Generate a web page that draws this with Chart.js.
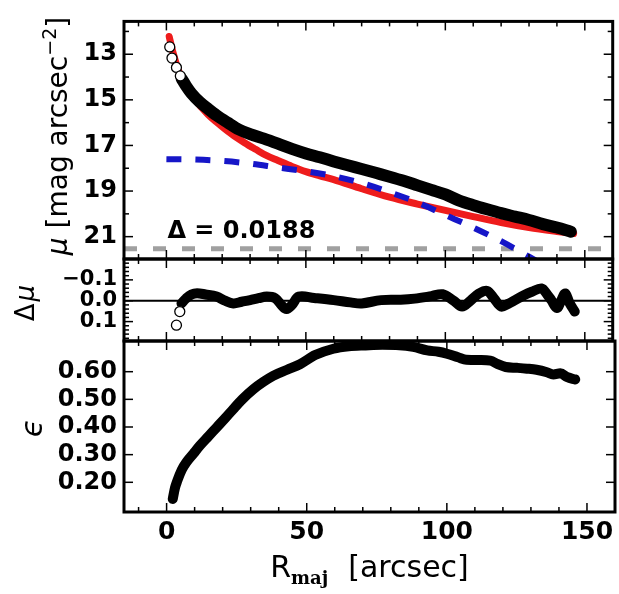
<!DOCTYPE html>
<html>
<head>
<meta charset="utf-8">
<script src="https://cdn.jsdelivr.net/npm/chart.js@4.4.1/dist/chart.umd.min.js"></script>
<style>
  html, body { margin: 0; padding: 0; background: #fff; }
  #wrap { position: relative; width: 619px; height: 594px; }
  #wrap canvas { position: absolute; left: 0; top: 0; }
</style>
</head>
<body>
<div id="wrap">
  <canvas id="muChart" width="619" height="594"></canvas>
  <canvas id="resChart" width="619" height="594"></canvas>
  <canvas id="ellChart" width="619" height="594"></canvas>
</div>
<script>
// ── x 축 (R_maj, arcsec)
const X_MIN = -15.2, X_MAX = 160;
const xMajor = [0, 50, 100, 150];
const xMinor = [-10, 10, 20, 30, 40, 60, 70, 80, 90, 110, 120, 130, 140];

// ── 표면 밝기 (mu)
const rOpen  = [1.2, 2.0, 3.6, 5.0];
const muOpen = [12.68, 13.17, 13.58, 13.95];
const rData  = [5.5, 7, 9, 12, 15, 18, 22, 26, 30, 35, 40, 45, 50, 55, 60, 65, 70, 75, 80, 85, 90, 95, 100, 105, 110, 115, 120, 125, 130, 135, 140, 145];
const muData = [14.08, 14.38, 14.72, 15.1, 15.4, 15.68, 16.0, 16.3, 16.5, 16.7, 16.92, 17.15, 17.35, 17.52, 17.7, 17.87, 18.03, 18.2, 18.37, 18.55, 18.75, 18.95, 19.15, 19.42, 19.62, 19.8, 19.97, 20.12, 20.27, 20.45, 20.6, 20.78];
const rModel  = [1.0, 2, 3, 4, 6, 8, 10, 12, 15, 18, 21, 24, 28, 32, 36, 40, 45, 50, 55, 60, 70, 80, 90, 100, 110, 120, 130, 140, 146];
const muModel = [12.22, 12.75, 13.2, 13.6, 14.2, 14.65, 14.98, 15.25, 15.65, 15.98, 16.28, 16.56, 16.88, 17.17, 17.45, 17.66, 17.92, 18.15, 18.33, 18.5, 18.9, 19.27, 19.57, 19.85, 20.12, 20.38, 20.6, 20.77, 20.86];
const rDisk  = [0, 10, 20, 30, 40, 50, 60, 70, 80, 90, 100, 110, 120, 130, 136];
const muDisk = [17.6, 17.62, 17.68, 17.8, 17.97, 18.13, 18.35, 18.65, 19.05, 19.5, 20.05, 20.6, 21.2, 21.88, 22.3];
const skyLevel = 21.53;
const deltaLabel = 'Δ = 0.0188';
const muMajor = [13, 15, 17, 19, 21];
const muMinor = [12, 14, 16, 18, 20];

// ── 잔차 (delta mu)
const rResOpen = [3.6, 4.8];
const resOpen  = [0.117, 0.052];
const rRes = [5.4, 7, 9, 11, 14, 18, 21, 24, 27, 30, 33, 36, 39, 41.5, 43, 45, 47.5, 53, 60, 66, 70, 77, 84, 89, 95, 99, 103, 106, 109, 112, 115, 117.5, 120, 122.5, 125, 128, 131, 134.5, 136.5, 138, 140, 141.5, 143, 144.5, 146.4];
const resVal = [0.013, -0.01, -0.03, -0.036, -0.03, -0.02, 0.0, 0.013, 0.005, -0.003, -0.012, -0.02, -0.012, 0.025, 0.04, 0.02, -0.02, -0.013, -0.003, 0.008, 0.013, -0.003, -0.005, -0.01, -0.022, -0.031, 0.0, 0.028, 0.0, -0.034, -0.047, -0.01, 0.028, 0.015, -0.003, -0.025, -0.043, -0.059, -0.03, -0.003, 0.035, 0.0, -0.035, 0.01, 0.052];
const resMajor = [-0.1, 0, 0.1];
const resMinor = [-0.18, -0.16, -0.14, -0.12, -0.08, -0.06, -0.04, -0.02, 0.02, 0.04, 0.06, 0.08, 0.12, 0.14, 0.16, 0.18];

// ── 타원율 (epsilon)
const rEll = [2.2, 3.0, 3.8, 5.4, 7.1, 9.5, 11.9, 15, 17.9, 21, 23.8, 27, 31, 34.5, 38, 43, 47.6, 53, 59.5, 65, 71, 77, 83, 88, 93, 97, 100, 104, 107, 112, 115.5, 118, 121, 125, 128.6, 132, 135.7, 138, 140.5, 143, 145.8];
const ellVal = [0.14, 0.18, 0.205, 0.245, 0.273, 0.303, 0.333, 0.367, 0.399, 0.433, 0.465, 0.5, 0.537, 0.563, 0.585, 0.607, 0.627, 0.66, 0.683, 0.692, 0.695, 0.697, 0.696, 0.69, 0.677, 0.672, 0.665, 0.652, 0.643, 0.642, 0.64, 0.628, 0.617, 0.614, 0.611, 0.607, 0.598, 0.59, 0.594, 0.58, 0.572];
const ellMajor = [0.2, 0.3, 0.4, 0.5, 0.6];

Chart.defaults.font.family = "'DejaVu Sans', sans-serif";
Chart.defaults.color = '#000';

const pts = (xs, ys) => xs.map((x, i) => ({ x, y: ys[i] }));

// ── 테두리 + 안쪽 눈금
const framePlugin = {
  id: 'frame',
  afterDatasetsDraw(chart, args, opts) {
    const { ctx, chartArea: a, scales: { x, y } } = chart;
    const seg = (x1, y1, x2, y2) => { ctx.beginPath(); ctx.moveTo(x1, y1); ctx.lineTo(x2, y2); ctx.stroke(); };
    ctx.save();
    ctx.strokeStyle = '#000';
    ctx.lineWidth = 1.5;
    const xt = (vals, len) => vals.forEach(v => {
      const p = x.getPixelForValue(v);
      seg(p, a.bottom, p, a.bottom - len);
      seg(p, a.top, p, a.top + len);
    });
    const yt = (vals, len) => vals.forEach(v => {
      const p = y.getPixelForValue(v);
      seg(a.left, p, a.left + len, p);
      seg(a.right, p, a.right - len, p);
    });
    xt(xMajor, 9); xt(xMinor, 5);
    yt(opts.yMajor || [], 9); yt(opts.yMinor || [], 5);
    ctx.lineWidth = 3;
    ctx.strokeRect(a.left, a.top, a.right - a.left, a.bottom - a.top);
    ctx.restore();
  }
};

// 회전된 y 축 제목 (부분별 폰트)
function drawRotated(ctx, cx, cy, parts) {
  ctx.save();
  ctx.translate(cx, cy);
  ctx.rotate(-Math.PI / 2);
  ctx.fillStyle = '#000';
  ctx.textBaseline = 'alphabetic';
  let total = 0;
  parts.forEach(p => { ctx.font = p.font; p.w = ctx.measureText(p.text).width + (p.gap || 0); total += p.w; });
  let px = -total / 2;
  parts.forEach(p => { ctx.font = p.font; ctx.fillText(p.text, px, -(p.rise || 0)); px += p.w; });
  ctx.restore();
}

function makePanel(id, cfg) {
  return new Chart(document.getElementById(id), {
    type: 'line',
    data: { datasets: cfg.datasets },
    options: {
      responsive: false,
      animation: false,
      events: [],
      layout: { padding: cfg.padding },
      plugins: {
        legend: { display: false },
        tooltip: { enabled: false },
        frame: { yMajor: cfg.yMajor, yMinor: cfg.yMinor },
      },
      scales: {
        x: {
          type: 'linear', min: X_MIN, max: X_MAX,
          display: !!cfg.showX,
          grid: { display: false, drawTicks: false },
          border: { display: false },
          afterBuildTicks: s => { s.ticks = xMajor.map(v => ({ value: v })); },
          afterFit: s => { if (cfg.showX) s.height = 82; },
          ticks: { font: { size: 25, weight: 'bold' }, padding: 5, maxRotation: 0, autoSkip: false },
        },
        y: {
          type: 'linear', min: cfg.yMin, max: cfg.yMax, reverse: !!cfg.reverse,
          grid: { display: false, drawTicks: false },
          border: { display: false },
          afterBuildTicks: s => { s.ticks = cfg.yMajor.map(v => ({ value: v })); },
          afterFit: s => { s.width = 124; },
          ticks: { font: cfg.yFont, padding: 7, autoSkip: false, callback: cfg.yFmt },
        }
      }
    },
    plugins: [framePlugin, { id: 'titles', afterDraw: cfg.titles }]
  });
}

const band = (xs, ys, extra) => Object.assign({
  data: pts(xs, ys), borderColor: '#000', borderWidth: 12, pointRadius: 0,
  borderCapStyle: 'round', borderJoinStyle: 'round', cubicInterpolationMode: 'monotone'
}, extra);
const openCircles = (xs, ys) => ({
  data: pts(xs, ys), showLine: false, pointRadius: 5,
  pointBackgroundColor: '#fff', pointBorderColor: '#000', pointBorderWidth: 1.3, order: 0
});

// ── 상단: 표면 밝기
makePanel('muChart', {
  padding: { left: 0, right: 4, top: 8, bottom: 594 - 259 },
  yMin: 11.56, yMax: 21.98, reverse: true,
  yMajor: muMajor, yMinor: muMinor,
  yFont: { size: 24, weight: 'bold' },
  yFmt: v => String(v),
  datasets: [
    openCircles(rOpen, muOpen),
    band(rData, muData, { order: 1 }),
    { data: pts(rDisk, muDisk), borderColor: '#1616c8', borderWidth: 6, borderDash: [15, 14],
      pointRadius: 0, cubicInterpolationMode: 'monotone', order: 2, clip: 0 },
    { data: pts(rModel, muModel), borderColor: '#ee1c1c', borderWidth: 7, borderCapStyle: 'round',
      pointRadius: 0, cubicInterpolationMode: 'monotone', order: 3 },
    { data: pts([X_MIN, X_MAX], [skyLevel, skyLevel]), borderColor: '#a0a0a0', borderWidth: 5,
      borderDash: [13, 16], pointRadius: 0, order: 4, clip: 0 },
  ],
  titles(chart) {
    const { ctx, scales: { x, y } } = chart;
    ctx.save();
    ctx.fillStyle = '#000';
    ctx.font = "bold 24px 'DejaVu Sans'";
    ctx.textBaseline = 'alphabetic';
    ctx.fillText(deltaLabel, x.getPixelForValue(0) + 1, y.getPixelForValue(21.07));
    ctx.restore();
    drawRotated(ctx, 67, 136, [
      { text: 'μ', font: "oblique 28px 'DejaVu Sans'" },
      { text: ' [mag arcsec', font: "28px 'DejaVu Sans'" },
      { text: '−2', font: "19px 'DejaVu Sans'", rise: 11 },
      { text: ']', font: "28px 'DejaVu Sans'" },
    ]);
  }
});

// ── 중단: 잔차
makePanel('resChart', {
  padding: { left: 0, right: 4, top: 259, bottom: 594 - 341 },
  yMin: -0.2, yMax: 0.193, reverse: true,
  yMajor: resMajor, yMinor: resMinor,
  yFont: { size: 21, weight: 'bold' },
  yFmt: v => (v < 0 ? '−' : '') + Math.abs(v).toFixed(1),
  datasets: [
    openCircles(rResOpen, resOpen),
    band(rRes, resVal, { borderWidth: 10, cubicInterpolationMode: 'default', tension: 0.35, order: 1 }),
    { data: pts([X_MIN, X_MAX], [0, 0]), borderColor: '#000', borderWidth: 2, pointRadius: 0, order: 2 },
  ],
  titles(chart) {
    drawRotated(chart.ctx, 34, 303, [
      { text: 'Δ', font: "26px 'DejaVu Sans'", gap: 2 },
      { text: 'μ', font: "oblique 26px 'DejaVu Sans'" },
    ]);
  }
});

// ── 하단: 타원율
makePanel('ellChart', {
  padding: { left: 0, right: 4, top: 341, bottom: 0 },
  yMin: 0.0926, yMax: 0.711, showX: true,
  yMajor: ellMajor, yMinor: [],
  yFont: { size: 24, weight: 'bold' },
  yFmt: v => v.toFixed(2),
  datasets: [
    band(rEll, ellVal, { borderWidth: 10, order: 1, clip: 0 }),
  ],
  titles(chart) {
    const { ctx, chartArea: a } = chart;
    drawRotated(ctx, 42, 428, [{ text: 'ϵ', font: "oblique 30px 'DejaVu Sans'" }]);
    // x 축 제목: R_maj [arcsec]
    const parts = [
      { text: 'R', font: "30px 'DejaVu Sans'", drop: 0 },
      { text: 'maj', font: "bold 18px 'DejaVu Serif'", drop: 7, gap: 20 },
      { text: '[arcsec]', font: "30px 'DejaVu Sans'", drop: 0 },
    ];
    ctx.save();
    ctx.fillStyle = '#000';
    ctx.textBaseline = 'alphabetic';
    let total = 0;
    parts.forEach(p => { ctx.font = p.font; p.w = ctx.measureText(p.text).width + (p.gap || 0); total += p.w; });
    let px = (a.left + a.right) / 2 - total / 2;
    parts.forEach(p => { ctx.font = p.font; ctx.fillText(p.text, px, 577 + p.drop); px += p.w; });
    ctx.restore();
  }
});
</script>
</body>
</html>
